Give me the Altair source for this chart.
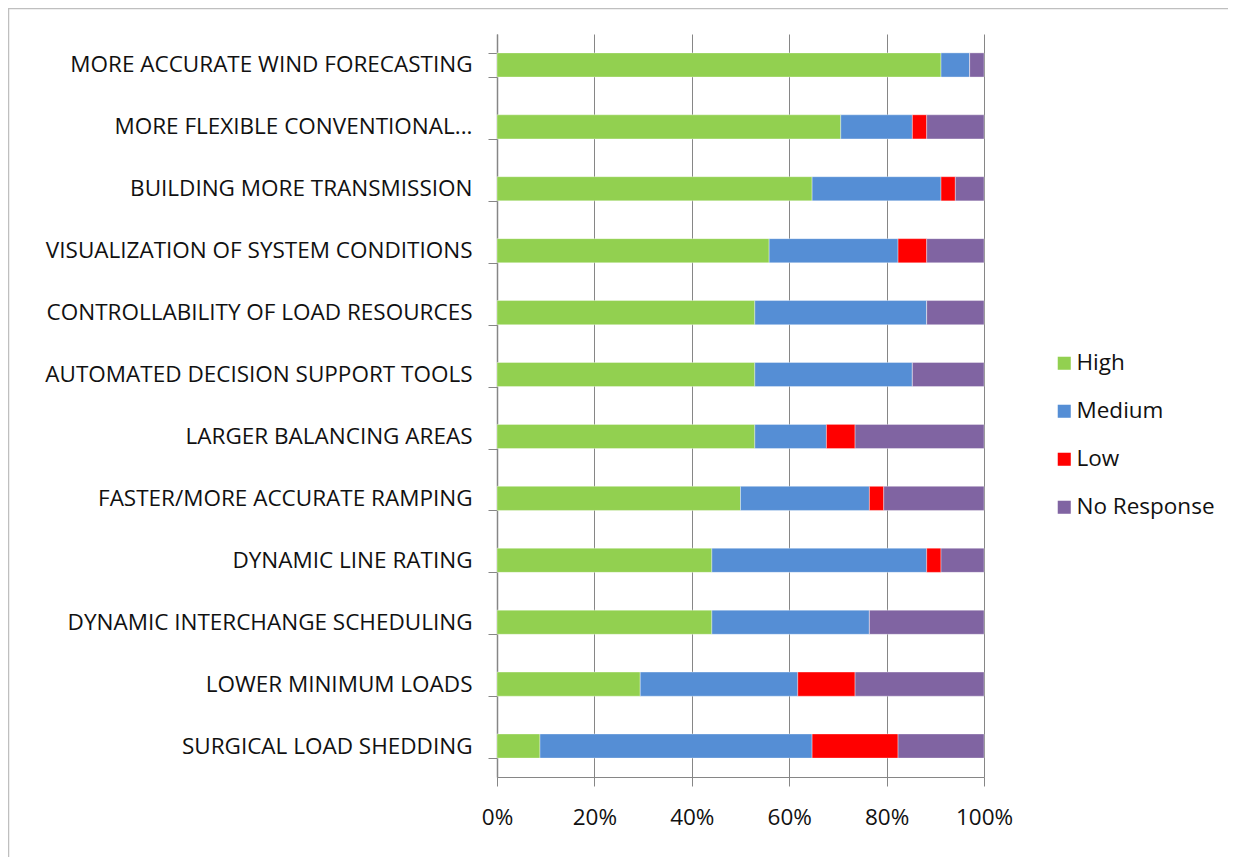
import altair as alt
import pandas as pd

categories = [
    "MORE ACCURATE WIND FORECASTING",
    "MORE FLEXIBLE CONVENTIONAL...",
    "BUILDING MORE TRANSMISSION",
    "VISUALIZATION OF SYSTEM CONDITIONS",
    "CONTROLLABILITY OF LOAD RESOURCES",
    "AUTOMATED DECISION SUPPORT TOOLS",
    "LARGER BALANCING AREAS",
    "FASTER/MORE ACCURATE RAMPING",
    "DYNAMIC LINE RATING",
    "DYNAMIC INTERCHANGE SCHEDULING",
    "LOWER MINIMUM LOADS",
    "SURGICAL LOAD SHEDDING",
]
series = ["High", "Medium", "Low", "No Response"]
high = [31, 24, 22, 19, 18, 18, 18, 17, 15, 15, 10, 3]
medium = [2, 5, 9, 9, 12, 11, 5, 9, 15, 11, 11, 19]
low = [0, 1, 1, 2, 0, 0, 2, 1, 1, 0, 4, 6]
no_response = [1, 4, 2, 4, 4, 5, 9, 7, 3, 8, 9, 6]
colors = ["#92D050", "#558ED5", "#FF0000", "#8064A2"]
x_ticks = [0, 0.2, 0.4, 0.6, 0.8, 1.0]

rows = []
for i, c in enumerate(categories):
    for s, vals in zip(series, [high, medium, low, no_response]):
        rows.append({"category": c, "series": s, "order": series.index(s), "value": vals[i]})
df = pd.DataFrame(rows)

FONT = "Open Sans"
TXT = "#111111"

bars = alt.Chart(df).mark_bar(stroke="#ffffff", strokeWidth=0.6, strokeOpacity=0.6).encode(
    y=alt.Y("category:N", sort=categories, title=None,
            scale=alt.Scale(paddingInner=0.61, paddingOuter=0.305),
            axis=alt.Axis(labelFontSize=22.5, labelFont=FONT, labelColor=TXT,
                          labelPadding=16, labelLimit=600, tickBand="extent",
                          tickSize=9, tickColor="#868686", domainColor="#868686",
                          domainWidth=1.5, grid=False)),
    x=alt.X("value:Q", stack="normalize", title=None,
            scale=alt.Scale(domain=[0, 1], nice=False),
            axis=alt.Axis(values=x_ticks, format=".0%", labelFontSize=22.5, labelFont=FONT,
                          labelColor=TXT, labelPadding=20, tickSize=9, labelFlush=False,
                          tickColor="#868686", domainColor="#868686", gridColor="#868686",
                          gridWidth=1, grid=True)),
    color=alt.Color("series:N", sort=series, scale=alt.Scale(domain=series, range=colors),
                    legend=alt.Legend(title=None, orient="none", legendX=556, legendY=318,
                                      labelFontSize=22.5, labelFont=FONT, labelColor=TXT,
                                      symbolType="square", symbolSize=170, symbolStrokeWidth=0,
                                      rowPadding=25, labelOffset=1)),
    order=alt.Order("order:Q"),
)

frame_left = alt.Chart(pd.DataFrame({"a": [0]})).mark_rule(color="#bfbfbf", strokeWidth=1.5).encode(
    x=alt.value(-488.5), y=alt.value(-26), y2=alt.value(830))
frame_top = alt.Chart(pd.DataFrame({"a": [0]})).mark_rule(color="#bfbfbf", strokeWidth=1.5).encode(
    x=alt.value(-489), x2=alt.value(760), y=alt.value(-25.5))

chart = alt.layer(bars, frame_left, frame_top).properties(
    width=487, height=743,
    autosize=alt.AutoSizeParams(type="none"),
    padding={"left": 489, "top": 26, "right": 244, "bottom": 80},
).configure_view(stroke=None).configure_axis(domainOpacity=1)

chart.save("out.html", embed_options={"renderer": "svg", "actions": False})
